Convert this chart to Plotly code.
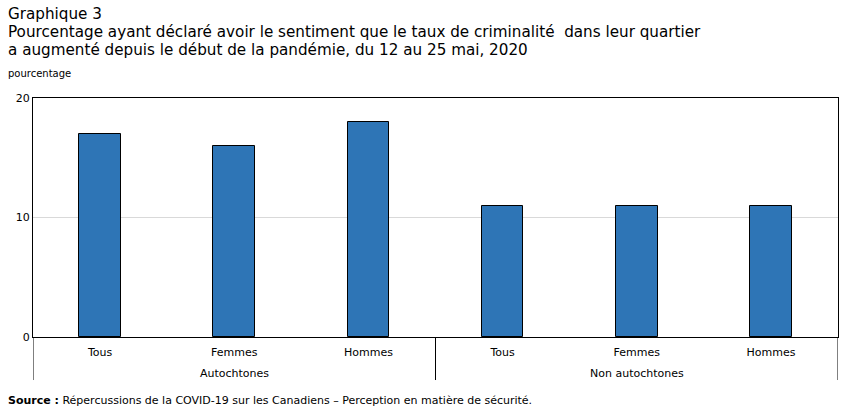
import plotly.graph_objects as go

categories = ["Tous", "Femmes", "Hommes", "Tous", "Femmes", "Hommes"]
groups = ["Autochtones", "Non autochtones"]
group_sizes = [3, 3]
values = [17, 16, 18, 11, 11, 11]
y_ticks = [0, 10, 20]

FONT = "DejaVu Sans"
positions = list(range(len(categories)))

fig = go.Figure()
fig.add_trace(go.Bar(
    x=positions, y=values, width=0.31,
    marker=dict(color="#2E75B6", line=dict(color="#000000", width=1)),
    hoverinfo="y",
))

shapes = []
annotations = []
start = 0
bounds = [-0.5]
for g, n in zip(groups, group_sizes):
    center = start + (n - 1) / 2
    annotations.append(dict(x=center, y=-0.151, xref="x", yref="paper", text=g,
                            showarrow=False, font=dict(family=FONT, size=11, color="#000"),
                            xanchor="center", yanchor="middle"))
    start += n
    bounds.append(start - 0.5)
for b in bounds:
    shapes.append(dict(type="line", xref="x", yref="paper", x0=b, x1=b, y0=0, y1=-0.18,
                       line=dict(color="#000", width=1)))

H, W = 417, 852
ML, MR, MT, MB = 33, 14, 98, 80
plot_h = H - MT - MB
plot_w = W - ML - MR

def px_to_paper(px, py):
    return (px - ML) / plot_w, (H - MB - py) / plot_h

title_lines = [
    "Graphique 3",
    "Pourcentage ayant déclaré avoir le sentiment que le taux de criminalité  dans leur quartier",
    "a augmenté depuis le début de la pandémie, du 12 au 25 mai, 2020",
]
texts = [(t, 6, 14 + 18 * i, 15.2) for i, t in enumerate(title_lines)]
texts.append(("pourcentage", 6, 74, 10))
texts.append(("<b>Source :</b> Répercussions de la COVID-19 sur les Canadiens – Perception en matière de sécurité.",
              6, 400, 11))
for t, px, py, size in texts:
    x, y = px_to_paper(px, py)
    annotations.append(dict(x=x, y=y, xref="paper", yref="paper", text=t,
                            showarrow=False, xanchor="left", yanchor="middle",
                            font=dict(family=FONT, size=size, color="#000")))

fig.update_layout(
    width=W, height=H,
    margin=dict(l=ML, r=MR, t=MT, b=MB),
    plot_bgcolor="white", paper_bgcolor="white",
    showlegend=False,
    bargap=0,
    xaxis=dict(range=[-0.5, len(categories) - 0.5], tickvals=positions, ticktext=categories,
               showgrid=False, zeroline=False, showline=True, linecolor="#000", mirror=True,
               ticks="", ticklabelstandoff=5,
               tickfont=dict(family=FONT, size=11, color="#000"), fixedrange=True),
    yaxis=dict(range=[0, 20], tickvals=y_ticks, showgrid=True, gridcolor="#d9d9d9",
               zeroline=False, showline=True, linecolor="#000", mirror=True, ticks="",
               tickfont=dict(family=FONT, size=11, color="#000"), fixedrange=True),
    shapes=shapes,
    annotations=annotations,
)

fig.write_html("out.html")
